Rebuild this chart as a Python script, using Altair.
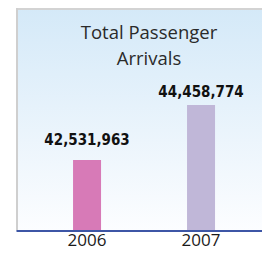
import altair as alt
import pandas as pd

years = ["2006", "2007"]
arrivals = [42531963, 44458774]
labels = ["42,531,963", "44,458,774"]
bar_colors = ["#d77ab7", "#c0b7d8"]

df = pd.DataFrame({"year": years, "arrivals": arrivals, "label": labels})

W, H = 246, 222
YMIN, YMAX = 40079693, 47856893
NUMFONT = "'Liberation Sans Narrow', 'DejaVu Sans Condensed', Roboto, sans-serif"

x = alt.X("year:N", scale=alt.Scale(domain=years, paddingInner=0, paddingOuter=0.079, align=0.78),
          axis=alt.Axis(title=None, labelAngle=0, ticks=False, labelFont="Open Sans",
                        labelFontSize=17, labelColor="#1a1a1a", labelPadding=2,
                        domainColor="#3d56a6", domainWidth=3, grid=False))
y = alt.Y("arrivals:Q", scale=alt.Scale(domain=[YMIN, YMAX], nice=False, zero=False),
          axis=None)

one = pd.DataFrame({"a": [0]})

bg = alt.Chart(one).mark_rect(
    fill=alt.LinearGradient(gradient="linear",
                            stops=[alt.GradientStop(color="#d4e9f8", offset=0),
                                   alt.GradientStop(color="#fcfdff", offset=1)],
                            x1=0, x2=0, y1=0, y2=1)
).encode(x=alt.value(0), x2=alt.value(W), y=alt.value(0), y2=alt.value(H))

top_border = alt.Chart(one).mark_rule(color="#d3d3d3", strokeWidth=2).encode(
    x=alt.value(0), x2=alt.value(W), y=alt.value(1))
left_border = alt.Chart(one).mark_rule(color="#cfcfcf", strokeWidth=2).encode(
    x=alt.value(1), y=alt.value(0), y2=alt.value(H))

title_lines = ["Total Passenger", "Arrivals"]
t1 = alt.Chart(pd.DataFrame({"t": [title_lines[0]]})).mark_text(
    font="Open Sans", fontSize=18.5, color="#2a2a2a", align="center", baseline="alphabetic"
).encode(x=alt.value(133), y=alt.value(31), text="t:N")
t2 = alt.Chart(pd.DataFrame({"t": [title_lines[1]]})).mark_text(
    font="Open Sans", fontSize=18.5, color="#2a2a2a", align="center", baseline="alphabetic"
).encode(x=alt.value(133), y=alt.value(57), text="t:N")

bars = alt.Chart(df).mark_bar(size=28).encode(
    x=x, y=y,
    y2=alt.datum(YMIN),
    color=alt.Color("year:N", scale=alt.Scale(domain=years, range=bar_colors), legend=None),
)

lab2006 = alt.Chart(df).transform_filter(alt.datum.year == "2006").mark_text(
    font=NUMFONT, fontWeight="bold", fontSize=15, color="#111111",
    baseline="alphabetic", dy=-15
).encode(x=x, y=y, text="label:N")
lab2007 = alt.Chart(df).transform_filter(alt.datum.year == "2007").mark_text(
    font=NUMFONT, fontWeight="bold", fontSize=15, color="#111111",
    baseline="alphabetic", dy=-8
).encode(x=x, y=y, text="label:N")

chart = alt.layer(bg, top_border, left_border, t1, t2, bars, lab2006, lab2007).properties(
    width=W, height=H,
    autosize=alt.AutoSizeParams(type="none"),
    padding={"left": 8, "top": 0, "right": 0, "bottom": 20},
).configure_view(stroke=None).configure(background="white")

chart.save("out.html", embed_options={"renderer": "svg", "actions": False})
